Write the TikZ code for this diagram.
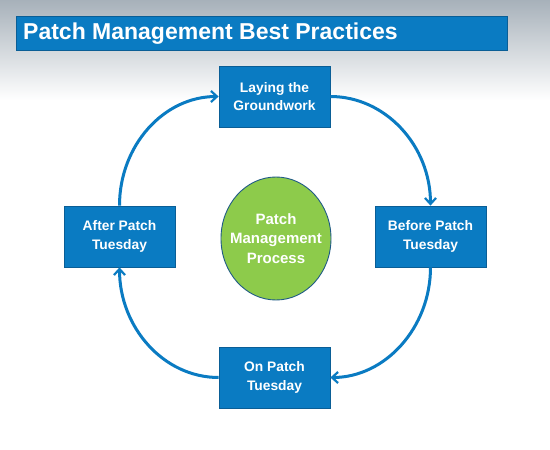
\documentclass[tikz,border=0pt]{standalone}
\usepackage{fontspec}
\setmainfont{Liberation Sans}
\usetikzlibrary{arrows.meta}
\definecolor{boxblue}{HTML}{0A7BC2}
\definecolor{boxedge}{HTML}{0A5E96}
\definecolor{procgreen}{HTML}{8DCB4B}
\definecolor{procedge}{HTML}{1F5A86}
\definecolor{bggray}{HTML}{A7B1BA}
\tikzset{
  stagebox/.style={draw=boxedge, line width=0.8pt, fill=boxblue, minimum width=111pt, minimum height=61pt, inner sep=0pt, text=white, align=center, font=\fontsize{13.8}{18.5}\selectfont\bfseries},
  proctext/.style={inner sep=0pt, text=white, align=center, font=\fontsize{15}{19.5}\selectfont\bfseries},
  procshape/.style={draw=procedge, line width=0.9pt, fill=procgreen},
  cycarrow/.style={draw=boxblue, line width=3pt, -{Straight Barb[length=6pt,width=11pt,line width=2.2pt]}},
}
\begin{document}
\begin{tikzpicture}[x=1pt,y=-1pt]
\useasboundingbox (0,0) rectangle (550,450);
\fill[white] (0,0) rectangle (550,450);
\shade[top color=bggray, bottom color=white] (0,0) rectangle (550,100);
\node[fill=boxblue, draw=boxedge, line width=0.5pt, minimum width=491pt, minimum height=34pt, inner sep=0pt, anchor=north west] (title) at (16,16) {};
\node[anchor=west, text=white, font=\fontsize{23}{26}\selectfont\bfseries, inner sep=0pt] (titletext) at (23,33.5) {Patch Management Best Practices};
\node[stagebox] (top) at (274.5,96.5) {Laying the\\Groundwork};
\node[stagebox] (right) at (430.5,236.5) {Before Patch\\Tuesday};
\node[stagebox] (bottom) at (274.5,377.5) {On Patch\\Tuesday};
\node[stagebox] (left) at (119.5,236.5) {After Patch\\Tuesday};
\coordinate (pc) at (276,238.5);
\draw[procshape] (pc) ellipse [x radius=55, y radius=61.5];
\node[proctext] (proc) at (pc) {Patch\\Management\\Process};
\draw[cycarrow] (top.east) .. controls +(55,0) and +(0,-60) .. (right.north);
\draw[cycarrow] (right.south) .. controls +(0,60) and +(55,0) .. (bottom.east);
\draw[cycarrow] (bottom.west) .. controls +(-55,0) and +(0,60) .. (left.south);
\draw[cycarrow] (left.north) .. controls +(0,-60) and +(-55,0) .. (top.west);
\end{tikzpicture}
\end{document}
